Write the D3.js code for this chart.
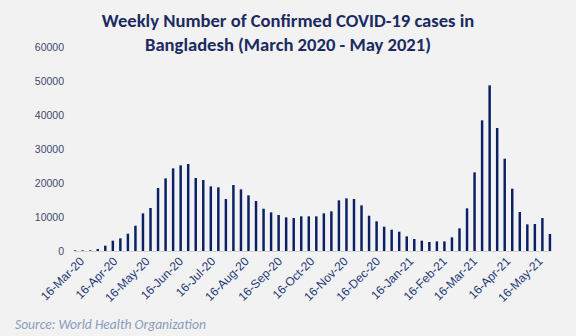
<!DOCTYPE html>
<html>
<head>
<meta charset="utf-8">
<script src="https://cdn.jsdelivr.net/npm/d3@7"></script>
<style>
  body { margin: 0; background: #f2f2f2; }
  svg { display: block; font-family: Carlito, Calibri, Lato, sans-serif; }
</style>
</head>
<body>
<div id="chart"></div>
<script>
// weekly confirmed cases, first week ending 14-Mar-2020
const firstWeek = new Date(Date.UTC(2020, 2, 14));
const cases = [
    200, 200, 200, 600, 1570, 3040, 3730, 5100, 7450, 11080,
    12650, 18530, 21370, 24310, 25200, 25590, 21470, 20880, 19020, 18730,
    15290, 19410, 18140, 16370, 14710, 12450, 11370, 10590, 9900, 9700,
    10200, 10200, 10200, 11080, 11670, 14900, 15490, 15290, 13430, 10390,
    8730, 7160, 6270, 5690, 4310, 3530, 3040, 2650, 2840, 2840,
    4020, 6670, 12550, 23140, 38430, 48730, 36180, 27160, 18330, 11470,
    7840, 7940, 9700, 5000
];
const yTicks = [0, 10000, 20000, 30000, 40000, 50000, 60000];
// x labels fall on the 16th of each month
const xTicks = d3.range(15).map(i => new Date(Date.UTC(2020, 2 + i, 16)));

const title = ["Weekly Number of Confirmed COVID-19 cases in",
               "Bangladesh (March 2020 - May 2021)"];
const source = "Source: World Health Organization";

const data = cases.map((c, i) => ({date: d3.utcDay.offset(firstWeek, i * 7), cases: c}));

const width = 576,
    height = 336,
    margin = ({top: 47, right: 24, bottom: 85, left: 73});

let svg = d3.select("#chart").append("svg")
    .attr("width", width)
    .attr("height", height)
    .attr("viewBox", [0, 0, width, height]);

svg.append("rect")
    .attr("width", width)
    .attr("height", height)
    .attr("fill", "#f2f2f2");

let x = d3.scaleUtc()
    .domain([d3.utcDay.offset(data[0].date, -2), d3.utcDay.offset(data[data.length - 1].date, 1)])
    .range([margin.left, width - margin.right - 1]);

let y = d3.scaleLinear()
    .domain([0, 60000])
    .range([height - margin.bottom, margin.top]);

// title
svg.append("text")
    .attr("text-anchor", "middle")
    .attr("font-weight", "bold")
    .attr("font-size", 18.6)
    .attr("fill", "#1b2a60")
    .selectAll("tspan")
    .data(title)
    .join("tspan")
    .attr("x", 288)
    .attr("y", (d, i) => 27 + i * 24)
    .text(d => d);

// y axis, labels only
const yAxis = g => g
    .attr("transform", `translate(${margin.left - 9}, 0)`)
    .call(d3.axisLeft(y).tickValues(yTicks).tickFormat(d3.format("d")).tickSize(0).tickPadding(0))
    .call(g => g.select(".domain").remove())
    .call(g => g.selectAll("text")
        .attr("font-size", 10.5)
        .attr("font-family", null)
        .attr("fill", "#3b4a6e"));

svg.append("g").call(yAxis);

// x axis with rotated date labels
const xAxis = g => g
    .attr("transform", `translate(0, ${y(0)})`)
    .call(d3.axisBottom(x).tickValues(xTicks).tickFormat(d3.utcFormat("%d-%b-%y")).tickSize(0))
    .call(g => g.select(".domain").attr("stroke", "#d0d0d0"))
    .call(g => g.selectAll("text")
        .attr("font-size", 12)
        .attr("font-family", null)
        .attr("fill", "#1f3a78")
        .attr("text-anchor", "end")
        .attr("dy", "0.35em")
        .attr("transform", "translate(2, 6) rotate(-45)"));

svg.append("g").call(xAxis);

// bars
svg.append("g")
    .selectAll("rect")
    .data(data)
    .join("rect")
    .attr("x", d => x(d.date) - 1.25)
    .attr("width", 2.5)
    .attr("y", d => y(d.cases))
    .attr("height", d => y(0) - y(d.cases))
    .attr("fill", "#0c2163")
    .attr("stroke", "#ffffff")
    .attr("stroke-opacity", 0.7)
    .attr("stroke-width", 0.8)
    .attr("paint-order", "stroke");

// source note
svg.append("text")
    .attr("x", 15)
    .attr("y", 329)
    .attr("font-size", 13.6)
    .attr("font-style", "italic")
    .attr("fill", "#8a9cbb")
    .text(source);
</script>
</body>
</html>
